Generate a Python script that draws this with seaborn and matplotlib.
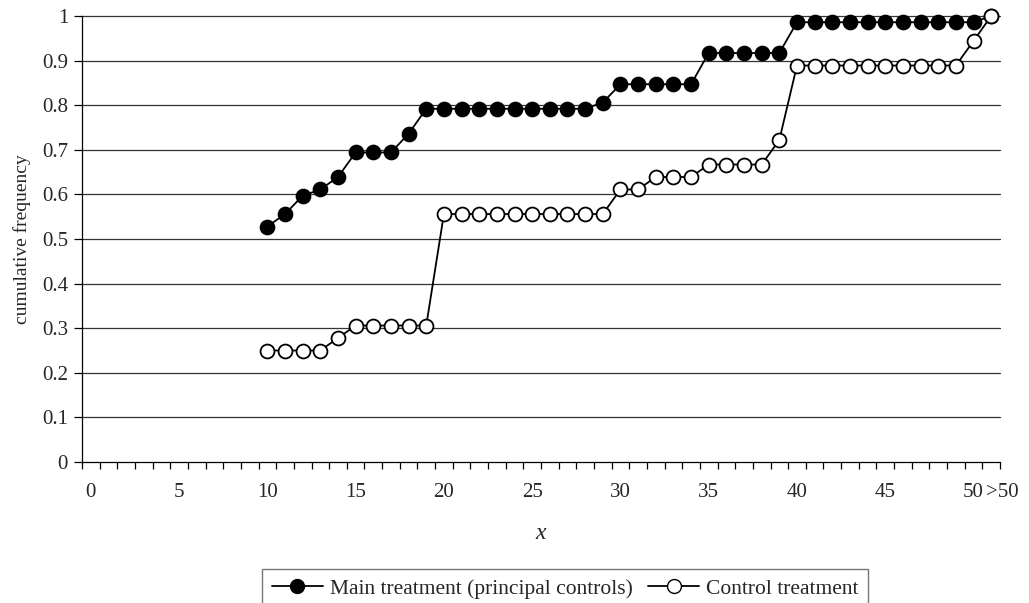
import numpy as np
import pandas as pd
import matplotlib
matplotlib.use("Agg")
import matplotlib.pyplot as plt
import matplotlib.transforms as mtransforms
import seaborn as sns
from matplotlib.lines import Line2D
from matplotlib.ticker import FixedLocator

# Category axis: 0..50 plus an open-ended ">50" bin
categories = [str(i) for i in range(51)] + [">50"]
shown_labels = {0: "0", 5: "5", 10: "10", 15: "15", 20: "20", 25: "25",
                30: "30", 35: "35", 40: "40", 45: "45", 50: "50", 51: ">50"}
y_ticks = [0, 0.1, 0.2, 0.3, 0.4, 0.5, 0.6, 0.7, 0.8, 0.9, 1]

# Cumulative frequencies from x = 10 up to ">50"
main_values = [0.528, 0.556, 0.597, 0.611, 0.639, 0.694, 0.694, 0.694, 0.736,
               0.792, 0.792, 0.792, 0.792, 0.792, 0.792, 0.792, 0.792, 0.792, 0.792,
               0.806, 0.847, 0.847, 0.847, 0.847, 0.847,
               0.917, 0.917, 0.917, 0.917, 0.917,
               0.986, 0.986, 0.986, 0.986, 0.986, 0.986, 0.986, 0.986, 0.986, 0.986, 0.986,
               1.0]
control_values = [0.25, 0.25, 0.25, 0.25, 0.278, 0.306, 0.306, 0.306, 0.306, 0.306,
                  0.556, 0.556, 0.556, 0.556, 0.556, 0.556, 0.556, 0.556, 0.556, 0.556,
                  0.611, 0.611, 0.639, 0.639, 0.639, 0.667, 0.667, 0.667, 0.667, 0.722,
                  0.889, 0.889, 0.889, 0.889, 0.889, 0.889, 0.889, 0.889, 0.889, 0.889,
                  0.944, 1.0]
start_category = "10"

series_names = ["Main treatment (principal controls)", "Control treatment"]

start = categories.index(start_category)
main_df = pd.DataFrame({"pos": np.arange(start, start + len(main_values)),
                        "freq": main_values})
control_df = pd.DataFrame({"pos": np.arange(start, start + len(control_values)),
                           "freq": control_values})

sns.set_style("white")
plt.rcParams["font.family"] = ["Liberation Serif", "DejaVu Serif"]

fig = plt.figure(figsize=(10.29, 6.03), dpi=100)
ax = fig.add_axes([82 / 1029, 1 - 462 / 603, (1000 - 82) / 1029, (462 - 16) / 603])

for y in y_ticks[1:]:
    ax.axhline(y, color="#333333", lw=0.9, zorder=0, clip_on=False)

line_kw = dict(lw=1.3, marker="o", markersize=10, markeredgewidth=1.3,
               markeredgecolor="black", color="black", clip_on=False)
sns.lineplot(data=main_df, x="pos", y="freq", ax=ax, markerfacecolor="black",
             legend=False, zorder=3, **line_kw)
sns.lineplot(data=control_df, x="pos", y="freq", ax=ax, markerfacecolor="white",
             legend=False, zorder=4, **line_kw)

ax.set_xlim(-0.5, len(categories) - 0.5)
ax.set_ylim(0, 1)
ax.yaxis.set_major_locator(FixedLocator(y_ticks))
ax.set_yticklabels([f"{v:g}" for v in y_ticks])

label_pos = sorted(shown_labels)
ax.xaxis.set_major_locator(FixedLocator(label_pos))
ax.set_xticklabels([shown_labels[p] for p in label_pos])
ax.xaxis.set_minor_locator(FixedLocator(np.arange(-0.5, len(categories), 1.0)))
ax.tick_params(axis="x", which="major", length=0, pad=15, labelsize=15)
ax.tick_params(axis="x", which="minor", length=5, width=0.9, direction="out",
               bottom=True, color="black")
ax.tick_params(axis="y", which="major", length=6, width=0.9, direction="out",
               left=True, labelsize=15, pad=4, color="black")

# nudge the open-ended bin label so it sits clear of "50"
last_label = ax.get_xticklabels()[-1]
last_label.set_transform(last_label.get_transform() +
                         mtransforms.ScaledTranslation(0.11, 0, fig.dpi_scale_trans))

for side in ["top", "right"]:
    ax.spines[side].set_visible(False)
for side in ["left", "bottom"]:
    ax.spines[side].set_color("black")
    ax.spines[side].set_linewidth(0.9)

ax.set_xlabel("x", fontsize=17, style="italic", labelpad=15)
ax.set_ylabel("cumulative frequency", fontsize=14, labelpad=8)

handles = [
    Line2D([], [], color="black", lw=1.3, marker="o", markersize=10,
           markerfacecolor="black", markeredgecolor="black"),
    Line2D([], [], color="black", lw=1.3, marker="o", markersize=10,
           markerfacecolor="white", markeredgecolor="black"),
]
leg = fig.legend(handles, series_names, loc="upper center", ncol=2,
                 bbox_to_anchor=(565 / 1029, 1 - 569 / 603), fontsize=15.5,
                 frameon=True, fancybox=False, edgecolor="#555555",
                 handlelength=2.4, handletextpad=0.3, columnspacing=0.7,
                 borderpad=0.45, borderaxespad=0)
leg.get_frame().set_linewidth(1.0)

fig.savefig("out.png", dpi=100)
